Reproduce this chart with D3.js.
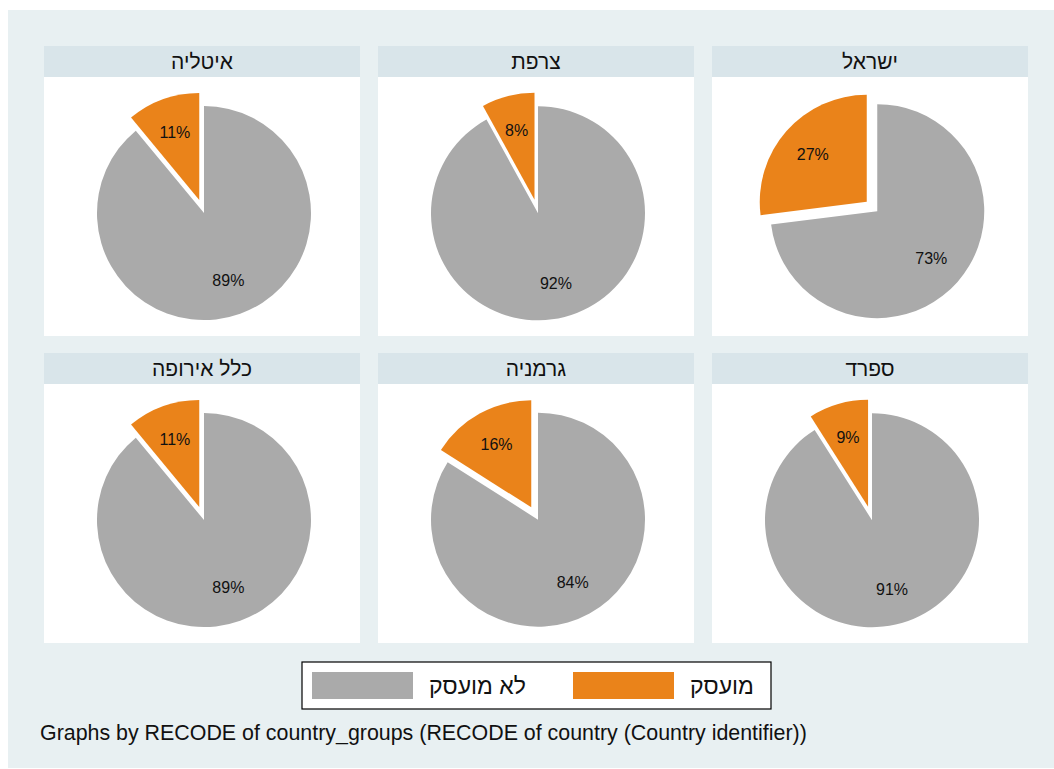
<!DOCTYPE html>
<html>
<head>
<meta charset="utf-8">
<script src="https://cdn.jsdelivr.net/npm/d3@7"></script>
<style>
  body { margin: 0; background: #ffffff; }
  svg text { font-family: "Liberation Sans", Arial, "DejaVu Sans", sans-serif; fill: #111; }
</style>
</head>
<body>
<div id="chart"></div>
<script>
// panels in display order, left to right, top row first
var countries = ["איטליה", "צרפת", "ישראל", "כלל אירופה", "גרמניה", "ספרד"];
// share employed / not employed (percent)
var employed    = [11, 8, 27, 11, 16, 9];
var notEmployed = [89, 92, 73, 89, 84, 91];
var seriesNames = ["מועסק", "לא מועסק"];
var legendOrder = [1, 0];
var caption = "Graphs by RECODE of country_groups (RECODE of country (Country identifier))";

var width = 1054, height = 769;
var colors = ["#ea831a", "#aaaaaa"];
var radius = 107, explode = 14, labelRadius = 72;

var svg = d3.select("#chart").append("svg")
    .attr("width", width)
    .attr("height", height);

// outer graph region
svg.append("rect")
    .attr("x", 8).attr("y", 10)
    .attr("width", width - 8).attr("height", height - 11)
    .attr("fill", "#e8f0f2");

// grid of panels
var col = d3.scaleBand().domain([0, 1, 2]).range([44, 1028]).paddingInner(18 / 334);
var row = d3.scaleBand().domain([0, 1]).range([46, 643]).paddingInner(17 / 307);
var headerH = 31;

var pie = d3.pie().sort(null).startAngle(0).endAngle(-2 * Math.PI);
var arc = d3.arc().innerRadius(0).outerRadius(radius);
var labelArc = d3.arc().innerRadius(labelRadius).outerRadius(labelRadius);

function offsetOf(d, i) {
  if (i !== 0) return [0, 0];
  var a = (d.startAngle + d.endAngle) / 2;
  return [Math.sin(a) * explode, -Math.cos(a) * explode];
}

// bounding box of the exploded pie, to centre it in the panel
function pieBox(slices) {
  var x0 = Infinity, x1 = -Infinity, y0 = Infinity, y1 = -Infinity;
  slices.forEach(function(d, i) {
    var o = offsetOf(d, i);
    var pts = [[0, 0]];
    for (var k = 0; k <= 200; k++) {
      var a = d.startAngle + (d.endAngle - d.startAngle) * k / 200;
      pts.push([Math.sin(a) * radius, -Math.cos(a) * radius]);
    }
    pts.forEach(function(p) {
      x0 = Math.min(x0, p[0] + o[0]); x1 = Math.max(x1, p[0] + o[0]);
      y0 = Math.min(y0, p[1] + o[1]); y1 = Math.max(y1, p[1] + o[1]);
    });
  });
  return [(x0 + x1) / 2, (y0 + y1) / 2];
}

countries.forEach(function(name, idx) {
  var c = idx % 3, r = Math.floor(idx / 3);
  var px = col(c), py = row(r), pw = col.bandwidth(), ph = row.bandwidth();

  var panel = svg.append("g").attr("transform", "translate(" + px + "," + py + ")");

  panel.append("rect")
      .attr("width", pw).attr("height", ph)
      .attr("fill", "#ffffff");
  panel.append("rect")
      .attr("width", pw).attr("height", headerH)
      .attr("fill", "#d9e5ea");
  panel.append("text")
      .attr("x", pw / 2).attr("y", headerH / 2 + 7)
      .attr("text-anchor", "middle")
      .style("font-size", "21px")
      .text(name);

  var slices = pie([employed[idx], notEmployed[idx]]);
  var box = pieBox(slices);
  var cx = pw / 2 - box[0] + 2;
  var cy = headerH + (ph - headerH) / 2 - box[1];

  var g = panel.append("g").attr("transform", "translate(" + cx + "," + cy + ")");

  var sl = g.selectAll(".slice")
    .data(slices)
    .enter().append("g")
      .attr("class", "slice")
      .attr("transform", function(d, i) {
        var o = offsetOf(d, i);
        return "translate(" + o[0] + "," + o[1] + ")";
      });

  sl.append("path")
      .attr("d", arc)
      .attr("fill", function(d, i) { return colors[i]; });

  sl.append("text")
      .attr("transform", function(d) { return "translate(" + labelArc.centroid(d) + ")"; })
      .attr("dy", "0.35em")
      .attr("text-anchor", "middle")
      .style("font-size", "16px")
      .text(function(d) { return d.data + "%"; });
});

// legend
var legend = svg.append("g").attr("transform", "translate(302,662)");
legend.append("rect")
    .attr("width", 469).attr("height", 47)
    .attr("fill", "#ffffff")
    .attr("stroke", "#000000")
    .attr("stroke-width", 1.2);

var legendX = d3.scalePoint().domain(legendOrder).range([10, 271]);

var item = legend.selectAll(".legend")
  .data(legendOrder)
  .enter().append("g")
    .attr("class", "legend")
    .attr("transform", function(d) { return "translate(" + legendX(d) + ",10)"; });

item.append("rect")
    .attr("width", 101).attr("height", 27)
    .attr("fill", function(d) { return colors[d]; });

item.append("text")
    .attr("x", 117)
    .attr("y", 22)
    .attr("text-anchor", "start")
    .style("font-size", "23px")
    .text(function(d) { return seriesNames[d]; });

// note
svg.append("text")
    .attr("x", 40).attr("y", 740)
    .style("font-size", "21.4px")
    .text(caption);
</script>
</body>
</html>
